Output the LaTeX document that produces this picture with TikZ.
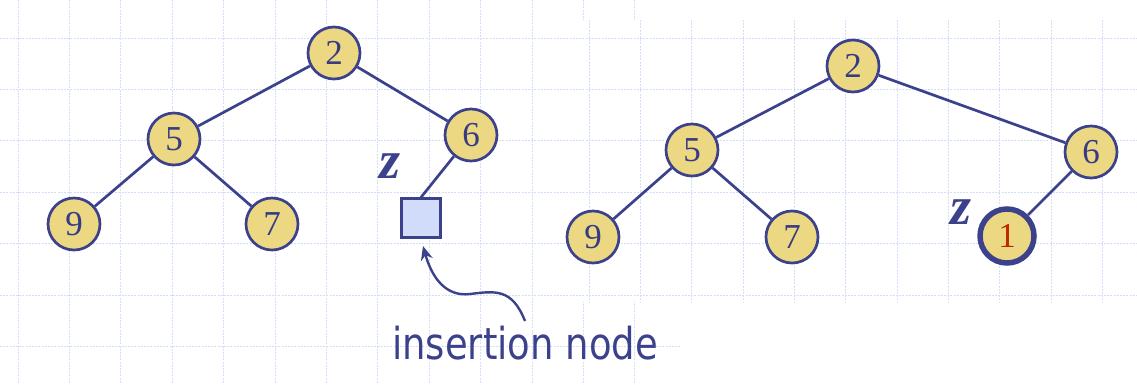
\documentclass[tikz,border=0pt]{standalone}
\usepackage{fontspec}
\setmainfont{Liberation Serif}
\newfontfamily\sansf{DejaVu Sans}
\usetikzlibrary{arrows.meta}
\definecolor{gridc}{RGB}{212,222,250}
\definecolor{edgec}{RGB}{60,65,140}
\definecolor{fillc}{RGB}{236,216,130}
\definecolor{digc}{RGB}{55,60,130}
\definecolor{redc}{RGB}{190,40,0}
\definecolor{sqfill}{RGB}{208,220,250}
\tikzset{
  gridline/.style={gridc, line width=0.8pt, dash pattern=on 2pt off 1.2pt},
  tnode/.style={circle, draw=edgec, line width=2.7pt, fill=fillc, minimum size=52pt, inner sep=0pt,
     font=\fontsize{35}{35}\selectfont, text=digc},
  znode/.style={circle, draw=edgec, line width=5.5pt, fill=fillc, minimum size=54pt, inner sep=0pt,
     font=\fontsize{35}{35}\selectfont, text=redc},
  sqnode/.style={rectangle, draw=edgec, line width=2.4pt, fill=sqfill, minimum size=39pt, inner sep=0pt},
  edge/.style={edgec, line width=2.7pt},
  zlabel/.style={text=edgec, font=\fontsize{54}{54}\selectfont\bfseries\itshape, inner sep=0pt},
  caption/.style={text=edgec, font=\sansf\fontsize{44}{44}\selectfont, inner sep=0pt, anchor=base west}
}
\begin{document}
\begin{tikzpicture}[x=1pt,y=-1pt]
\useasboundingbox (0,0) rectangle (1137,384);
% left grid
\foreach \k in {0,...,12} { \draw[gridline] ({18+51.4*\k},0) -- ({18+51.4*\k},384); }
\foreach \k in {0,...,6} { \draw[gridline] (0,{38+51.4*\k}) -- (680,{38+51.4*\k}); }
% right panel
\fill[white] (560,20) rectangle (1137,302);
\foreach \k in {0,...,10} { \draw[gridline] ({589+51.35*\k},20) -- ({589+51.35*\k},302); }
\foreach \k in {0,...,5} { \draw[gridline] (560,{38+51.4*\k}) -- (1137,{38+51.4*\k}); }

% left tree
\node[tnode] (a2) at (334,53) {2};
\node[tnode] (a5) at (174,139) {5};
\node[tnode] (a6) at (471,135) {6};
\node[tnode] (a9) at (74,224) {9};
\node[tnode] (a7) at (272,224) {7};
\node[sqnode] (sq) at (421,218) {};
\node[zlabel] (za) at (390,166) {z};
\draw[edge] (a2) -- (a5);
\draw[edge] (a2) -- (a6);
\draw[edge] (a5) -- (a9);
\draw[edge] (a5) -- (a7);
\draw[edge] (a6) -- (sq.north);

% caption and arrow
\node[caption] (cap) at (392,359) {\scalebox{0.84}[1]{insertion node}};
\coordinate (arrS) at (525,321);
\coordinate (arrT) at (423,246);
\draw[edge, line width=2.4pt, -{Stealth[length=14pt,width=12pt]}] (arrS) .. controls (512,288) and (495,291) .. (470,294) .. controls (446,297) and (432,278) .. (arrT);

% right tree
\node[tnode] (b2) at (853,66) {2};
\node[tnode] (b5) at (692,150) {5};
\node[tnode] (b6) at (1091,152) {6};
\node[tnode] (b9) at (593,237) {9};
\node[tnode] (b7) at (792,237) {7};
\node[znode] (b1) at (1007,236) {1};
\node[zlabel] (zb) at (961,212) {z};
\draw[edge] (b2) -- (b5);
\draw[edge] (b2) -- (b6);
\draw[edge] (b5) -- (b9);
\draw[edge] (b5) -- (b7);
\draw[edge] (b6) -- (b1);
\end{tikzpicture}
\end{document}
